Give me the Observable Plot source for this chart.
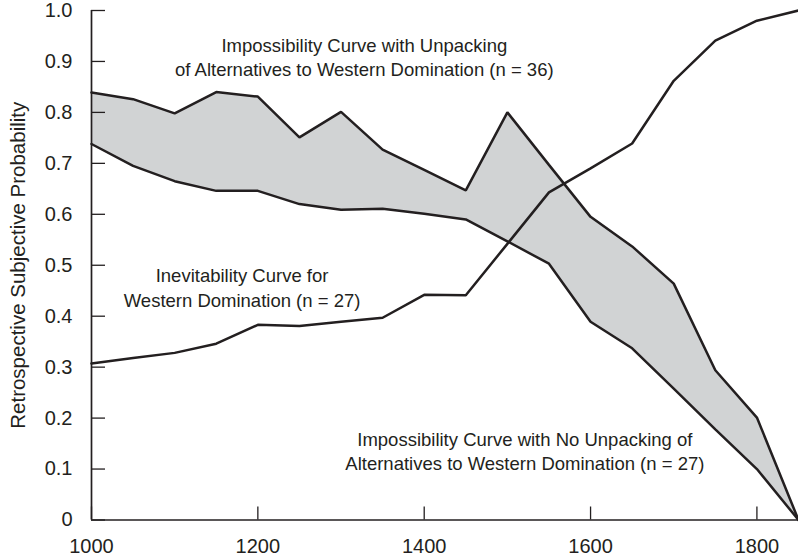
<!DOCTYPE html>
<html>
<head>
<meta charset="utf-8">
<script src="https://cdn.jsdelivr.net/npm/d3@7"></script>
<script src="https://cdn.jsdelivr.net/npm/@observablehq/plot@0.6"></script>
<style>
  html, body { margin: 0; padding: 0; background: #fff; }
  #chart { width: 798px; height: 556px; }
</style>
</head>
<body>
<div id="chart"></div>
<script>
// ---- data ----
const years = [1000, 1050, 1100, 1150, 1200, 1250, 1300, 1350, 1400, 1450, 1500, 1550, 1600, 1650, 1700, 1750, 1800, 1850];
const withUnpacking = [0.839, 0.826, 0.798, 0.840, 0.831, 0.751, 0.801, 0.727, 0.687, 0.647, 0.800, 0.697, 0.595, 0.537, 0.464, 0.294, 0.201, 0.0];
const noUnpacking   = [0.738, 0.695, 0.665, 0.646, 0.646, 0.620, 0.609, 0.611, 0.601, 0.590, 0.547, 0.503, 0.389, 0.337, 0.258, 0.178, 0.100, 0.0];
const inevitability = [0.307, 0.318, 0.328, 0.346, 0.383, 0.381, 0.389, 0.397, 0.442, 0.441, 0.542, 0.643, 0.690, 0.739, 0.862, 0.941, 0.980, 1.0];

const xTicks = [1000, 1200, 1400, 1600, 1800];
const xTickLabels = ["1000", "1200", "1400", "1600", "1800"];
const yTicks = [0, 0.1, 0.2, 0.3, 0.4, 0.5, 0.6, 0.7, 0.8, 0.9, 1.0];
const yTickLabels = ["0", "0.1", "0.2", "0.3", "0.4", "0.5", "0.6", "0.7", "0.8", "0.9", "1.0"];
const yTitle = "Retrospective Subjective Probability";

const annotationText = [
  "Impossibility Curve with Unpacking\nof Alternatives to Western Domination (n = 36)",
  "Inevitability Curve for\nWestern Domination (n = 27)",
  "Impossibility Curve with No Unpacking of\nAlternatives to Western Domination (n = 27)"
];
const annotationYear = [1328, 1181, 1521];
const annotationProb = [0.8705, 0.419, 0.0972];

// ---- tables built from arrays ----
const rows = years.map((year, i) => ({
  year,
  upper: withUnpacking[i],
  lower: noUnpacking[i],
  inev: inevitability[i]
}));
const annotations = annotationText.map((text, i) => ({text, year: annotationYear[i], p: annotationProb[i]}));

const ink = "#231f20";
const W = 798, H = 556, ML = 91, MR = 0, MT = 10, MB = 36.5;
const frameW = W - ML - MR, frameH = H - MT - MB;
const xDomain = [1000, 1850];
const pxToYears = (xDomain[1] - xDomain[0]) / frameW; // tick length conversion

const chart = Plot.plot({
  width: W,
  height: H,
  marginLeft: ML,
  marginRight: MR,
  marginTop: MT,
  marginBottom: MB,
  style: { fontFamily: "'Liberation Sans', Arial, Helvetica, sans-serif", color: ink, background: "#fff", overflow: "visible" },
  x: { domain: xDomain },
  y: { domain: [0, 1] },
  marks: [
    Plot.areaY(rows, { x: "year", y1: "lower", y2: "upper", fill: "#d1d3d4", curve: "linear" }),
    Plot.line(rows, { x: "year", y: "upper", stroke: ink, strokeWidth: 2.5, strokeLinejoin: "miter" }),
    Plot.line(rows, { x: "year", y: "lower", stroke: ink, strokeWidth: 2.5, strokeLinejoin: "miter" }),
    Plot.line(rows, { x: "year", y: "inev", stroke: ink, strokeWidth: 2.5, strokeLinejoin: "miter" }),
    // axis lines
    Plot.ruleY([0], { stroke: ink, strokeWidth: 1.7 }),
    Plot.ruleX([1000], { stroke: ink, strokeWidth: 1.7 }),
    // inward ticks
    Plot.tickX(xTicks, { x: d => d, insetTop: frameH - 13, stroke: ink, strokeWidth: 1.3 }),
    Plot.ruleY(yTicks, { y: d => d, x1: () => xDomain[0], x2: () => xDomain[0] + 14 * pxToYears, stroke: ink, strokeWidth: 1.3 }),
    // tick labels
    Plot.axisX(xTicks, { tickSize: 0, tickPadding: 19, fontSize: 20, label: null, tickFormat: d => xTickLabels[xTicks.indexOf(d)] }),
    Plot.axisY(yTicks, { tickSize: 0, tickPadding: 19, fontSize: 20, label: null, tickFormat: d => yTickLabels[yTicks.indexOf(d)] }),
    // y title
    Plot.text([yTitle], { text: d => d, frameAnchor: "left", textAnchor: "middle", rotate: -90, dx: -73, fontSize: 20.5, fill: ink }),
    // annotations
    Plot.text(annotations, { x: "year", y: "p", text: "text", lineAnchor: "bottom", lineHeight: 1.35, fontSize: 18.5, textAnchor: "middle", fill: ink })
  ]
});
document.getElementById("chart").appendChild(chart);
</script>
</body>
</html>
